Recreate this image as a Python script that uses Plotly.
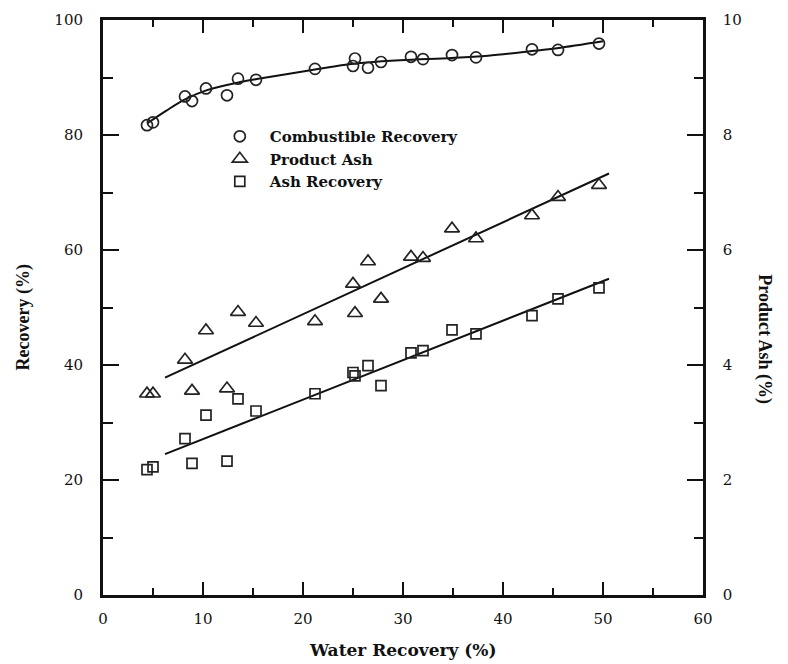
import plotly.graph_objects as go

# Water recovery (%) at each flotation test
water_recovery = [4.4, 5.0, 8.2, 8.9, 10.3, 12.4, 13.5, 15.3, 21.2, 25.0,
                  25.2, 26.5, 27.8, 30.8, 32.0, 34.9, 37.3, 42.9, 45.5, 49.6]

# Combustible recovery (%), left axis
combustible_recovery = [81.7, 82.2, 86.7, 85.9, 88.1, 86.9, 89.8, 89.6, 91.5, 92.0,
                        93.3, 91.7, 92.7, 93.6, 93.2, 93.9, 93.5, 94.9, 94.8, 95.9]

# Product ash (%), right axis
product_ash = [3.50, 3.50, 4.09, 3.55, 4.60, 3.59, 4.92, 4.73, 4.76, 5.41,
               4.90, 5.80, 5.15, 5.88, 5.86, 6.37, 6.20, 6.60, 6.92, 7.13]

# Ash recovery (%), left axis
ash_recovery = [21.8, 22.3, 27.2, 22.9, 31.3, 23.3, 34.1, 32.0, 35.0, 38.7,
                38.1, 39.9, 36.4, 42.1, 42.5, 46.1, 45.4, 48.6, 51.5, 53.4]

# Smoothed trend of combustible recovery
comb_fit_x = [4.4, 6.3, 8.2, 10.4, 13.7, 16.0, 21.2, 25.0, 29.7, 34.9, 38.5, 42.9, 45.4, 50.0]
comb_fit_y = [82.0, 84.2, 86.2, 87.8, 89.2, 89.9, 91.4, 92.4, 93.0, 93.4, 93.8, 94.6, 95.1, 96.3]

# Linear trends
ash_fit_x = [6.2, 50.6]
ash_fit_y = [3.78, 7.33]
ashrec_fit_x = [6.2, 50.6]
ashrec_fit_y = [24.5, 55.0]

x_ticks = [0, 10, 20, 30, 40, 50, 60]
y_ticks = [0, 20, 40, 60, 80, 100]
y2_ticks = [0, 2, 4, 6, 8, 10]

INK = "#111111"
TICK_FONT = dict(family="DejaVu Serif", size=15, color=INK)
BOLD_SERIF = "Liberation Serif"

fig = go.Figure()

fig.add_trace(go.Scatter(
    x=comb_fit_x, y=comb_fit_y, mode="lines",
    line=dict(color=INK, width=2, shape="spline", smoothing=1.0),
    showlegend=False, hoverinfo="skip"))
fig.add_trace(go.Scatter(
    x=ash_fit_x, y=ash_fit_y, mode="lines", yaxis="y2",
    line=dict(color=INK, width=2), showlegend=False, hoverinfo="skip"))
fig.add_trace(go.Scatter(
    x=ashrec_fit_x, y=ashrec_fit_y, mode="lines",
    line=dict(color=INK, width=2), showlegend=False, hoverinfo="skip"))

fig.add_trace(go.Scatter(
    x=water_recovery, y=combustible_recovery, mode="markers",
    name="Combustible Recovery",
    marker=dict(symbol="circle-open", size=11, color="#222222", line=dict(width=1.7))))
fig.add_trace(go.Scatter(
    x=water_recovery, y=product_ash, mode="markers", yaxis="y2",
    name="Product Ash",
    marker=dict(symbol="triangle-up-open", size=13, color="#222222", line=dict(width=1.7))))
fig.add_trace(go.Scatter(
    x=water_recovery, y=ash_recovery, mode="markers",
    name="Ash Recovery",
    marker=dict(symbol="square-open", size=10, color="#222222", line=dict(width=1.7))))

fig.update_layout(
    width=788, height=664,
    margin=dict(l=103, r=85, t=20, b=69),
    paper_bgcolor="white", plot_bgcolor="white",
    showlegend=True,
    legend=dict(
        x=0.178, y=0.826, xanchor="left", yanchor="top",
        bgcolor="rgba(0,0,0,0)", borderwidth=0,
        font=dict(family="DejaVu Serif", size=15, color=INK, weight="bold"),
        itemwidth=50, tracegroupgap=0),
    xaxis=dict(
        range=[0, 60], tickvals=x_ticks, ticktext=[str(v) for v in x_ticks],
        showgrid=False, zeroline=False,
        showline=True, linecolor=INK, linewidth=2.5, mirror="ticks",
        ticks="inside", ticklen=13, tickwidth=2, tickcolor=INK,
        minor=dict(dtick=5, ticks="inside", ticklen=7, tickwidth=2, tickcolor=INK),
        tickfont=TICK_FONT, ticklabelstandoff=8),
    yaxis=dict(
        range=[0, 100], tickvals=y_ticks, ticktext=[str(v) for v in y_ticks],
        showgrid=False, zeroline=False,
        showline=True, linecolor=INK, linewidth=3,
        ticks="inside", ticklen=16, tickwidth=2, tickcolor=INK,
        minor=dict(dtick=10, ticks="inside", ticklen=10, tickwidth=2, tickcolor=INK),
        tickfont=TICK_FONT, ticklabelstandoff=14),
    yaxis2=dict(
        range=[0, 10], tickvals=y2_ticks, ticktext=[str(v) for v in y2_ticks],
        overlaying="y", side="right", anchor="x",
        showgrid=False, zeroline=False,
        showline=True, linecolor=INK, linewidth=2.5,
        ticks="inside", ticklen=16, tickwidth=2, tickcolor=INK,
        minor=dict(dtick=1, ticks="inside", ticklen=9, tickwidth=2, tickcolor=INK),
        tickfont=TICK_FONT, ticklabelstandoff=14),
)

fig.add_annotation(
    text="Water Recovery (%)", xref="paper", yref="paper",
    x=0.5, y=-0.095, xanchor="center", yanchor="middle", showarrow=False,
    font=dict(family="DejaVu Serif", size=17, color=INK, weight="bold"))
fig.add_annotation(
    text="Recovery (%)", xref="paper", yref="paper",
    x=-0.133, y=0.483, xanchor="center", yanchor="middle", showarrow=False,
    textangle=-90,
    font=dict(family=BOLD_SERIF, size=18, color=INK, weight="bold"))
fig.add_annotation(
    text="Product Ash (%)", xref="paper", yref="paper",
    x=1.103, y=0.445, xanchor="center", yanchor="middle", showarrow=False,
    textangle=90,
    font=dict(family=BOLD_SERIF, size=18, color=INK, weight="bold"))

fig.write_html("out.html")
